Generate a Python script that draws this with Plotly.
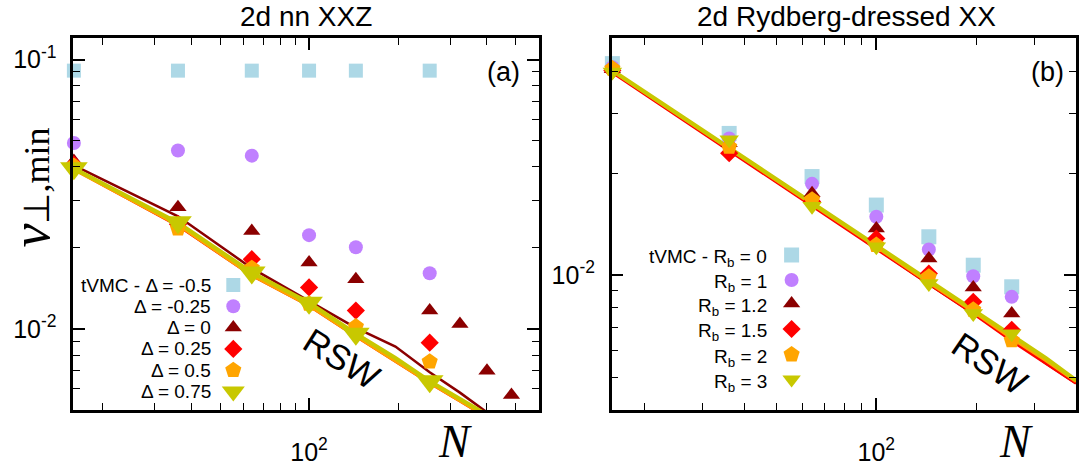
import math
import plotly.graph_objects as go

W, H = 1080, 466

# ---------------- data ----------------
N_a = [16, 36, 64, 100, 144, 256]
N_a_long = [16, 36, 64, 100, 144, 256, 324, 400, 484]
N_rsw = [16, 36, 64, 100, 144, 196, 256, 324, 400]
N_b = [16, 36, 64, 100, 144, 196, 256]

# panel (a): tVMC, 2d nn XXZ
va_m050 = [0.091, 0.091, 0.091, 0.091, 0.091, 0.091]
va_m025 = [0.049, 0.046, 0.044, 0.0223, 0.0201, 0.0161]
va_000 = [0.042, 0.0283, 0.0231, 0.01766, 0.0153, 0.0117, 0.01043, 0.0070, 0.00568]
va_025 = [0.0408, 0.0245, 0.01815, 0.01426, 0.0117, 0.00889]
va_050 = [0.0403, 0.0236, 0.0168, 0.0124, 0.0102, 0.00756]
va_075 = [0.0395, 0.0249, 0.0162, 0.0125, 0.0096, 0.0064]

# panel (a): RSW lines
rsw_a_000 = [0.0405, 0.0262, 0.0168, 0.0127, 0.0101, 0.0086, 0.0069, 0.0058, 0.0049]
rsw_a_025 = [0.0392, 0.0242, 0.0158, 0.0122, 0.0094, 0.0076, 0.0063, 0.0054, 0.0047]
rsw_a_050 = [0.0390, 0.0243, 0.0158, 0.0122, 0.0094, 0.0076, 0.0063, 0.0054, 0.0047]
rsw_a_075 = [0.0394, 0.0248, 0.0162, 0.0125, 0.0096, 0.0078, 0.0064, 0.0055, 0.0048]

# panel (b): tVMC, 2d Rydberg-dressed XX
vb_0 = [0.0421, 0.0262, 0.01954, 0.0161, 0.01298, 0.0107, 0.00924]
vb_1 = [0.0411, 0.0253, 0.0186, 0.01487, 0.01191, 0.00993, 0.00863]
vb_12 = [0.0405, 0.0245, 0.01746, 0.01374, 0.0112, 0.0092, 0.0077]
vb_15 = [0.0402, 0.0229, 0.0165, 0.01283, 0.01011, 0.00834, 0.0069]
vb_2 = [0.0407, 0.0239, 0.0167, 0.01227, 0.00989, 0.0079, 0.00642]
vb_3 = [0.0398, 0.0251, 0.01596, 0.01213, 0.00945, 0.0077, 0.00672]

# panel (b): RSW lines
rsw_b_12 = [0.0398, 0.0234, 0.0161, 0.0120, 0.0094, 0.0077, 0.0065, 0.0055, 0.0048]
rsw_b_15 = [0.0396, 0.0233, 0.0160, 0.0120, 0.0094, 0.0077, 0.0064, 0.0055, 0.0048]
rsw_b_2 = [0.0400, 0.0235, 0.0162, 0.0121, 0.0095, 0.0078, 0.0065, 0.0056, 0.00485]
rsw_b_3 = [0.0402, 0.0237, 0.0163, 0.0122, 0.0096, 0.0079, 0.0066, 0.0057, 0.0049]

labels_a = ["tVMC - Δ = -0.5", "Δ = -0.25", "Δ = 0", "Δ = 0.25", "Δ = 0.5", "Δ = 0.75"]
labels_b = ["tVMC - R<sub>b</sub> = 0", "R<sub>b</sub> = 1", "R<sub>b</sub> = 1.2",
            "R<sub>b</sub> = 1.5", "R<sub>b</sub> = 2", "R<sub>b</sub> = 3"]
titles = ["2d nn XXZ", "2d Rydberg-dressed XX"]
panel_tags = ["(a)", "(b)"]

x_major = [100]
x_major_text = ["10<sup>2</sup>"]
x_minor_a = [20, 30, 40, 50, 60, 70, 80, 90, 200, 300, 400, 500]
x_minor_b = [20, 30, 40, 50, 60, 70, 80, 90, 200, 300]
y_major_a = [0.1, 0.01]
y_major_a_text = ["10<sup>-1</sup>", "10<sup>-2</sup>"]
y_minor_a = [0.006, 0.007, 0.008, 0.009, 0.02, 0.03, 0.04, 0.05, 0.06, 0.07, 0.08, 0.09]
y_major_b = [0.01]
y_major_b_text = ["10<sup>-2</sup>"]
y_minor_b = [0.005, 0.006, 0.007, 0.008, 0.009, 0.02, 0.03, 0.04]

# ---------------- style ----------------
symbols = ["square", "circle", "triangle-up", "diamond", "pentagon", "triangle-down"]
colors = ["#add8e6", "#c080ff", "#8b0000", "#ff0000", "#ffa500", "#c8c800"]
sizes_a = [14, 14, 15, 14, 17, 24]
sizes_b = [15, 14, 15, 14, 17, 17]
leg_sizes_a = [14, 14, 15, 14, 17, 20]
leg_sizes_b = [15, 14, 15, 14, 17, 16]
SANS = "Liberation Sans, Arial, sans-serif"
SERIF = "Liberation Serif, Times New Roman, serif"

# panel geometry in pixels
PA = dict(x0=73.3, x1=539.0, y0=38.3, y1=410.0)
PB = dict(x0=611.7, x1=1076.0, y0=38.3, y1=410.0)


def px(x):
    return x / W


def py(y):
    return 1 - y / H


fig = go.Figure()

# ---------- panel (a) ----------
rsw_a = [rsw_a_000, rsw_a_025, rsw_a_050, rsw_a_075]
for vals, col, lw in zip(rsw_a, colors[2:], [2.5, 3, 3, 4]):
    fig.add_trace(go.Scatter(x=N_rsw, y=vals, mode="lines", line=dict(color=col, width=lw),
                             xaxis="x", yaxis="y", showlegend=False, hoverinfo="skip"))
data_a = [(N_a, va_m050), (N_a, va_m025), (N_a_long, va_000), (N_a, va_025), (N_a, va_050), (N_a, va_075)]
for (xs, ys), sym, col, sz in zip(data_a, symbols, colors, sizes_a):
    fig.add_trace(go.Scatter(x=xs, y=ys, mode="markers", cliponaxis=False,
                             marker=dict(symbol=sym, color=col, size=sz, line=dict(width=0)),
                             xaxis="x", yaxis="y", showlegend=False))

# ---------- panel (b) ----------
rsw_b = [rsw_b_12, rsw_b_15, rsw_b_2, rsw_b_3]
for vals, col, lw in zip(rsw_b, colors[2:], [2.5, 3, 3, 4]):
    fig.add_trace(go.Scatter(x=N_rsw, y=vals, mode="lines", line=dict(color=col, width=lw),
                             xaxis="x2", yaxis="y2", showlegend=False, hoverinfo="skip"))
data_b = [vb_0, vb_1, vb_12, vb_15, vb_2, vb_3]
for ys, sym, col, sz in zip(data_b, symbols, colors, sizes_b):
    fig.add_trace(go.Scatter(x=N_b, y=ys, mode="markers", cliponaxis=False,
                             marker=dict(symbol=sym, color=col, size=sz, line=dict(width=0)),
                             xaxis="x2", yaxis="y2", showlegend=False))

# ---------- legend keys (overlay pixel axes) ----------
rows_a = [285 + 21.3 * i for i in range(6)]
rows_b = [255, 280, 303.5, 329, 354.5, 379.5]
key_x_a, key_x_b = 233.3, 791.6
text_x_a, text_x_b = 212.5, 768.5

for i in range(6):
    fig.add_trace(go.Scatter(x=[key_x_a], y=[rows_a[i]], mode="markers", cliponaxis=False,
                             marker=dict(symbol=symbols[i], color=colors[i], size=leg_sizes_a[i]),
                             xaxis="x3", yaxis="y3", showlegend=False, hoverinfo="skip"))
    fig.add_trace(go.Scatter(x=[key_x_b], y=[rows_b[i]], mode="markers", cliponaxis=False,
                             marker=dict(symbol=symbols[i], color=colors[i], size=leg_sizes_b[i]),
                             xaxis="x4", yaxis="y4", showlegend=False, hoverinfo="skip"))

annotations = []


def ann(x, y, text, size, family=SANS, xanchor="center", yanchor="middle", angle=0, yshift=0):
    annotations.append(dict(x=px(x), y=py(y), xref="paper", yref="paper", showarrow=False,
                            xanchor=xanchor, yanchor=yanchor, text=text, textangle=angle,
                            yshift=yshift, font=dict(family=family, size=size, color="black")))


for i in range(6):
    ann(text_x_a, rows_a[i], labels_a[i], 19, xanchor="right")
    ann(text_x_b, rows_b[i], labels_b[i], 19, xanchor="right", yshift=-3)

ann(306, 16.5, titles[0], 28)
ann(846, 16.5, titles[1], 28)
ann(503, 72, panel_tags[0], 27)
ann(1047.5, 72, panel_tags[1], 27)
ann(341.7, 358.3, "RSW", 35, angle=32)
ann(990, 363.3, "RSW", 35, angle=34)
ann(455, 441, "<i>N</i>", 46, family=SERIF)
ann(1016, 441, "<i>N</i>", 46, family=SERIF)
ann(30, 187.5, "<i>v</i><span style='font-size:36px'>⊥,min</span>", 54, family=SERIF, angle=-90)


def log_axis(domain, rng, tickvals, ticktext, minor_vals, anchor, standoff):
    return dict(
        type="log", domain=domain, range=rng, anchor=anchor,
        tickmode="array", tickvals=tickvals, ticktext=ticktext,
        ticks="inside", ticklen=12, tickwidth=1.5, tickcolor="black",
        mirror="allticks", showline=True, linewidth=2.5, linecolor="black",
        showgrid=False, zeroline=False,
        tickfont=dict(family=SANS, size=25, color="black"),
        ticklabelstandoff=standoff,
        minor=dict(tickmode="array", tickvals=minor_vals, ticks="inside", ticklen=7,
                   tickwidth=1.2, tickcolor="black", showgrid=False),
    )


dom_xa = [px(PA["x0"]), px(PA["x1"])]
dom_xb = [px(PB["x0"]), px(PB["x1"])]
dom_y = [py(PA["y1"]), py(PA["y0"])]
xlo = math.log10(16) - 0.002

layout = dict(
    width=W, height=H, margin=dict(l=0, r=0, t=0, b=0),
    paper_bgcolor="white", plot_bgcolor="rgba(0,0,0,0)",
    showlegend=False, annotations=annotations,
    xaxis=log_axis(dom_xa, [xlo, math.log10(600)], x_major, x_major_text, x_minor_a, "y", 18),
    yaxis=log_axis(dom_y, [math.log10(0.005), math.log10(0.12)], y_major_a, y_major_a_text, y_minor_a, "x", 9),
    xaxis2=log_axis(dom_xb, [xlo, math.log10(400)], x_major, x_major_text, x_minor_b, "y2", 18),
    yaxis2=log_axis(dom_y, [math.log10(0.004), math.log10(0.05)], y_major_b, y_major_b_text, y_minor_b, "x2", 9),
    xaxis3=dict(overlaying="x", range=[PA["x0"], PA["x1"]], visible=False, anchor="y3"),
    yaxis3=dict(overlaying="y", range=[PA["y1"], PA["y0"]], visible=False, anchor="x3"),
    xaxis4=dict(overlaying="x2", range=[PB["x0"], PB["x1"]], visible=False, anchor="y4"),
    yaxis4=dict(overlaying="y2", range=[PB["y1"], PB["y0"]], visible=False, anchor="x4"),
)
fig.update_layout(**layout)
fig.write_html("out.html")
